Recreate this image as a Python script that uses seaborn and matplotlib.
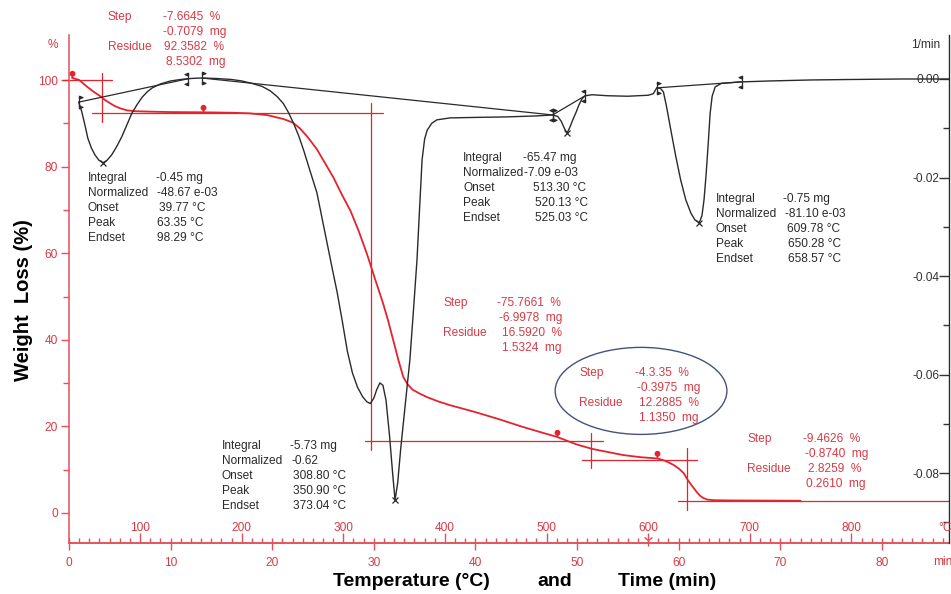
import numpy as np
import matplotlib
matplotlib.use("Agg")
import matplotlib.pyplot as plt
import seaborn as sns
from matplotlib.path import Path
from matplotlib.patches import Ellipse
from matplotlib.ticker import MultipleLocator, FixedLocator

sns.set_theme(style="white")
plt.rcParams["font.family"] = ["Liberation Sans", "DejaVu Sans"]

RED = "#e3232e"
AXRED = "#e2505b"
TXTRED = "#d93a44"
DARK = "#2a2a2a"

# ---- TGA mass curve: furnace temperature (°C) vs. remaining mass (%) ----
tga_temp = [33, 40, 46, 53, 60.5, 66, 70, 75, 80, 87, 95, 110, 130, 160, 190,
            208, 225, 241, 250, 257, 265, 274, 282, 290, 298, 307, 315, 323,
            331, 339, 344, 349, 354, 359, 363, 368, 375, 382, 393, 405, 430,
            454, 475, 493.6, 510, 520, 530, 545, 560, 575, 592, 603, 609, 615,
            620, 625, 630, 635, 639, 644, 648, 651, 654, 658, 665, 680, 720, 750]
tga_mass = [100.5, 100.0, 98.8, 97.5, 96.3, 95.3, 94.7, 94.0, 93.5, 93.0, 92.8,
            92.7, 92.6, 92.55, 92.45, 92.3, 91.9, 91.0, 90.2, 88.9, 86.8, 84.0,
            80.8, 77.6, 73.8, 69.8, 65.2, 60.0, 54.2, 48.5, 44.5, 40.0, 35.5,
            31.4, 29.8, 28.5, 27.6, 26.8, 25.8, 24.9, 23.3, 21.6, 20.0, 18.7,
            17.6, 16.7, 15.8, 14.8, 14.1, 13.4, 12.9, 12.7, 12.6, 12.2, 11.7,
            11.1, 10.3, 9.2, 7.6, 6.0, 4.8, 4.0, 3.5, 3.1, 2.95, 2.9, 2.86, 2.83]

# ---- DTG curve: temperature (°C) vs. rate (1/min) ----
dtg_temp = [39.5, 42.5, 45.5, 48.5, 52.0, 55.5, 59.5, 63.35, 67.0, 72.0, 77.0,
            82.0, 87.0, 92.0, 97.0, 102.0, 107.0, 112.0, 120.0, 130.0, 140.0,
            150.0, 160.0, 175.0, 190.0, 200.0, 210.0, 220.0, 228.0, 235.0,
            241.0, 246.0, 251.0, 256.0, 261.0, 267.0, 274.0, 279.0, 284.0,
            289.0, 294.0, 299.0, 304.0, 309.0, 314.0, 319.0, 323.0, 326.5,
            330.0, 333.0, 336.0, 339.0, 342.0, 345.5, 348.5, 350.9, 353.5,
            356.5, 359.5, 362.5, 365.5, 369.0, 372.5, 375.0, 377.5, 380.0,
            382.5, 387.0, 392.0, 405.0, 430.0, 460.0, 490.0, 506.0, 511.0,
            514.5, 517.5, 520.13, 523.0, 526.0, 529.0, 532.0, 535.0, 538.0,
            545.0, 560.0, 580.0, 600.0, 605.0, 608.5, 612.0, 615.0, 618.0,
            622.0, 627.0, 632.0, 637.0, 642.0, 646.0, 650.28, 653.0, 655.0,
            657.0, 659.0, 661.0, 663.0, 666.0, 672.0, 690.0, 720.0, 760.0,
            800.0, 850.0, 896.0]
dtg_rate = [-0.0047, -0.0066, -0.0092, -0.0120, -0.0140, -0.0154, -0.0165,
            -0.0170, -0.0166, -0.0154, -0.0137, -0.0117, -0.0093, -0.0069,
            -0.0052, -0.0037, -0.0026, -0.0018, -0.0010, -0.0004, -0.0001,
            0.0001, 0.0002, 0.0001, -0.0001, -0.0004, -0.0009, -0.0015,
            -0.0024, -0.0036, -0.0050, -0.0068, -0.0090, -0.0115, -0.0145,
            -0.0185, -0.0231, -0.0282, -0.0333, -0.0384, -0.0434, -0.0492,
            -0.0553, -0.0597, -0.0626, -0.0645, -0.0655, -0.0659, -0.0648,
            -0.0630, -0.0617, -0.0622, -0.0652, -0.0725, -0.0800, -0.0855,
            -0.0820, -0.0750, -0.0690, -0.0630, -0.0570, -0.0470, -0.0367,
            -0.0265, -0.0164, -0.0122, -0.0104, -0.0090, -0.0083, -0.0079,
            -0.0078, -0.0077, -0.0075, -0.0073, -0.0076, -0.0086, -0.0100,
            -0.0110, -0.0098, -0.0082, -0.0068, -0.0052, -0.0040, -0.0034,
            -0.0032, -0.0034, -0.0035, -0.0033, -0.0030, -0.0018, -0.0019,
            -0.0026, -0.0055, -0.0100, -0.0155, -0.0205, -0.0245, -0.0272,
            -0.0286, -0.0292, -0.0277, -0.0245, -0.0195, -0.0135, -0.0070,
            -0.0035, -0.0016, -0.0009, -0.0006, -0.0004, -0.0002, -0.0001,
            0.0, 0.0]

# ---- step evaluation results ----
step_pct_text = ["-7.6645", "-75.7661", "-4.3.35", "-9.4626"]
step_mg = [-0.7079, -6.9978, -0.3975, -0.8740]
residue_pct = [92.3582, 16.5920, 12.2885, 2.8259]
residue_mg = [8.5302, 1.5324, 1.1350, 0.2610]
start_level = 100.0
step_mid_temp = [62.3, 327.0, 544.0, 638.0]
step_vert_span = [(90.3, 101.6), (14.5, 94.7), (10.4, 18.5), (0.7, 15.0)]
level_temp_span = [(24, 72), (52.6, 339), (321, 556), (535, 648), (629, 896)]
pin_temp = [33.0, 162.0, 510.0, 609.0]

# ---- peak integration results ----
integral_mg = ["-0.45", "-5.73", "-65.47", "-0.75"]
normalized = ["-48.67 e-03", "-0.62", "-7.09 e-03", "-81.10 e-03"]
onset_temp = [39.77, 308.80, 513.30, 609.78]
peak_temp = [63.35, 350.90, 520.13, 650.28]
endset_temp = [98.29, 373.04, 525.03, 658.57]
peak_limits = [(39.5, 147.0), (161.0, 506.0), (506.0, 538.0), (608.5, 692.0)]

T_START, HEAT_RATE = 30.0, 10.0
W, H = 951, 594


def temp_to_time(T):
    return (np.asarray(T, dtype=float) - T_START) / HEAT_RATE


def time_to_temp(t):
    return np.asarray(t, dtype=float) * HEAT_RATE + T_START


def fx(x):
    return x / W


def fy(y):
    return 1 - y / H


fig = plt.figure(figsize=(W / 100, H / 100), dpi=100)
ax = fig.add_axes([fx(69), fy(543), 880 / W, 508 / H])
ax.set_xlim(30, 896.1)
ax.set_ylim(-6.93, 110.4)
ax2 = ax.twinx()
ax2.set_ylim(-0.0942, 0.00893)
ax.set_facecolor("white")

# ---- curves ----
sns.lineplot(x=tga_temp, y=tga_mass, ax=ax, color=RED, lw=1.3,
             estimator=None, sort=False, zorder=3)
sns.lineplot(x=dtg_temp, y=dtg_rate, ax=ax2, color=DARK, lw=1.0,
             estimator=None, sort=False, zorder=3)

# ---- step tangents (horizontal levels and vertical midpoints) ----
levels = [start_level] + residue_pct
for lev, (t0, t1) in zip(levels, level_temp_span):
    ax.plot([t0, t1], [lev, lev], color=RED, lw=0.9, clip_on=False, zorder=2)
for tm, (lo, hi) in zip(step_mid_temp, step_vert_span):
    ax.plot([tm, tm], [lo, hi], color=RED, lw=0.9, zorder=2)

# pin markers on the mass curve
pin_path = Path.make_compound_path(
    Path.circle((0, 0.68), 0.32),
    Path([(0, 0), (0, 0.4)], [Path.MOVETO, Path.LINETO]))
pin_y = np.interp(pin_temp, tga_temp, tga_mass)
ax.plot(pin_temp, pin_y, ls="none", marker=pin_path, ms=10, mfc=RED,
        mec=RED, mew=1, zorder=4)

# ---- DTG integration baselines, limits and peak marks ----
def bracket(sign):
    v = [(0, -1), (0, 1),
         (0, 1), (0.55 * sign, 0.78), (0, 0.56), (0, 1),
         (0, -1), (0.55 * sign, -0.78), (0, -0.56), (0, -1)]
    c = [Path.MOVETO, Path.LINETO,
         Path.MOVETO, Path.LINETO, Path.LINETO, Path.CLOSEPOLY,
         Path.MOVETO, Path.LINETO, Path.LINETO, Path.CLOSEPOLY]
    return Path(v, c)


for t0, t1 in peak_limits:
    r0, r1 = np.interp([t0, t1], dtg_temp, dtg_rate)
    ax2.plot([t0, t1], [r0, r1], color=DARK, lw=0.9, zorder=3)
    ax2.plot([t0], [r0], ls="none", marker=bracket(1), ms=9, mfc=DARK,
             mec=DARK, mew=0.9, zorder=4)
    ax2.plot([t1], [r1], ls="none", marker=bracket(-1), ms=9, mfc=DARK,
             mec=DARK, mew=0.9, zorder=4)

peak_rate = np.interp(peak_temp, dtg_temp, dtg_rate)
ax2.plot(peak_temp, peak_rate, ls="none", marker="x", ms=5, mew=0.9,
         color=DARK, zorder=4)

# ---- axes styling ----
for side in ["top", "right"]:
    ax.spines[side].set_visible(False)
for side in ["top", "left", "bottom"]:
    ax2.spines[side].set_visible(False)
ax.spines["left"].set_color(AXRED)
ax.spines["bottom"].set_color(AXRED)
ax.spines["left"].set_linewidth(1.1)
ax.spines["bottom"].set_linewidth(1.1)
ax2.spines["right"].set_color(DARK)
ax2.spines["right"].set_linewidth(1.0)

# left (%) axis
ax.yaxis.set_major_locator(FixedLocator([0, 20, 40, 60, 80, 100]))
ax.yaxis.set_minor_locator(FixedLocator([10, 30, 50, 70, 90]))
ax.tick_params(axis="y", which="major", left=True, direction="out", length=6,
               width=1, color=AXRED, labelcolor=TXTRED, labelsize=8.6, pad=2)
ax.tick_params(axis="y", which="minor", left=True, direction="out", length=4,
               width=1, color=AXRED)

# temperature ticks (inside, labels above the axis line)
ax.xaxis.set_major_locator(FixedLocator([100, 200, 300, 400, 500, 600, 700, 800]))
ax.xaxis.set_minor_locator(MultipleLocator(10))
ax.tick_params(axis="x", which="major", bottom=True, direction="in", length=7,
               width=1, color=AXRED, labelcolor=TXTRED, labelsize=8.6, pad=-15)
ax.tick_params(axis="x", which="minor", bottom=True, direction="in", length=3.5,
               width=1, color=AXRED)

# time axis along the same line
secax = ax.secondary_xaxis("bottom", functions=(temp_to_time, time_to_temp))
secax.set_xticks(list(range(0, 90, 10)))
secax.tick_params(axis="x", direction="out", length=5, width=1, color=AXRED,
                  labelcolor=TXTRED, labelsize=8.6, pad=5)
secax.spines["bottom"].set_color(AXRED)
secax.spines["bottom"].set_linewidth(1.1)

# right (1/min) axis with labels inside
ax2.set_yticks([0, -0.02, -0.04, -0.06, -0.08])
ax2.set_yticklabels(["0.00", "-0.02", "-0.04", "-0.06", "-0.08"])
ax2.yaxis.set_minor_locator(FixedLocator([-0.01, -0.03, -0.05, -0.07, -0.09]))
ax2.tick_params(axis="y", which="major", right=True, direction="in", length=7,
                width=1, colors="#333333", labelsize=8.6, pad=-6.5)
ax2.tick_params(axis="y", which="minor", right=True, direction="in", length=4,
                width=1, color="#333333")
for lab in ax2.get_yticklabels():
    lab.set_ha("right")

# marker on the temperature scale
ax.plot([600], [ax.get_ylim()[0] + 0.8], ls="none", marker="1", ms=8,
        color=AXRED, clip_on=False, zorder=5)

# ellipse around the third step result
ax.add_patch(Ellipse((593, 28.2), 169, 20.1, fill=False, ec="#45527e",
                     lw=1.0, zorder=4))

# ---- unit labels ----
fig.text(fx(53), fy(45), "%", color=TXTRED, fontsize=8.6, ha="center", va="center")
fig.text(fx(911), fy(45), "1/min", color="#333333", fontsize=8.6, ha="left", va="center")
fig.text(fx(938), fy(528), "°C", color=TXTRED, fontsize=8.6, ha="left", va="center")
fig.text(fx(933), fy(562), "min", color=TXTRED, fontsize=8.6, ha="left", va="center")

# ---- axis titles ----
fig.text(fx(24), fy(300), "Weight  Loss (%)", rotation=90, fontsize=14.5,
         fontweight="bold", ha="center", va="center", color="black")
fig.text(fx(333), fy(582), "Temperature (°C)", fontsize=14, fontweight="bold",
         ha="left", va="center", color="black")
fig.text(fx(537), fy(582), "and", fontsize=14, fontweight="bold",
         ha="left", va="center", color="black")
fig.text(fx(618), fy(582), "Time (min)", fontsize=14, fontweight="bold",
         ha="left", va="center", color="black")

# ---- step result blocks ----
step_blocks = [
    (108, 17, [163, 163, 164, 166]),
    (443, 303, [497, 499, 502, 502]),
    (579, 373, [635, 637, 639, 639]),
    (747, 439, [803, 805, 808, 806]),
]
for i, (lx, y0, vx) in enumerate(step_blocks):
    rows = [("Step", f"{step_pct_text[i]}  %"),
            ("", f"{step_mg[i]:.4f}  mg"),
            ("Residue", f"{residue_pct[i]:.4f}  %"),
            ("", f"{residue_mg[i]:.4f}  mg")]
    for k, (lab, val) in enumerate(rows):
        yy = y0 + 15 * k
        if lab:
            fig.text(fx(lx), fy(yy), lab, color=TXTRED, fontsize=8.6,
                     ha="left", va="center")
        fig.text(fx(vx[k]), fy(yy), val, color=TXTRED, fontsize=8.6,
                 ha="left", va="center")

# ---- peak result blocks ----
peak_blocks = [
    (88, 178, [156, 157, 159, 157, 157]),
    (222, 446, [290, 291, 293, 293, 293]),
    (463, 158, [523, 524, 533, 535, 535]),
    (716, 199, [783, 785, 787, 788, 788]),
]
for i, (lx, y0, vx) in enumerate(peak_blocks):
    rows = [("Integral", f"{integral_mg[i]} mg"),
            ("Normalized", normalized[i]),
            ("Onset", f"{onset_temp[i]:.2f} °C"),
            ("Peak", f"{peak_temp[i]:.2f} °C"),
            ("Endset", f"{endset_temp[i]:.2f} °C")]
    for k, (lab, val) in enumerate(rows):
        yy = y0 + 15 * k
        fig.text(fx(lx), fy(yy), lab, color=DARK, fontsize=8.6,
                 ha="left", va="center")
        fig.text(fx(vx[k]), fy(yy), val, color=DARK, fontsize=8.6,
                 ha="left", va="center")

fig.savefig("out.png", dpi=100, facecolor="white")
